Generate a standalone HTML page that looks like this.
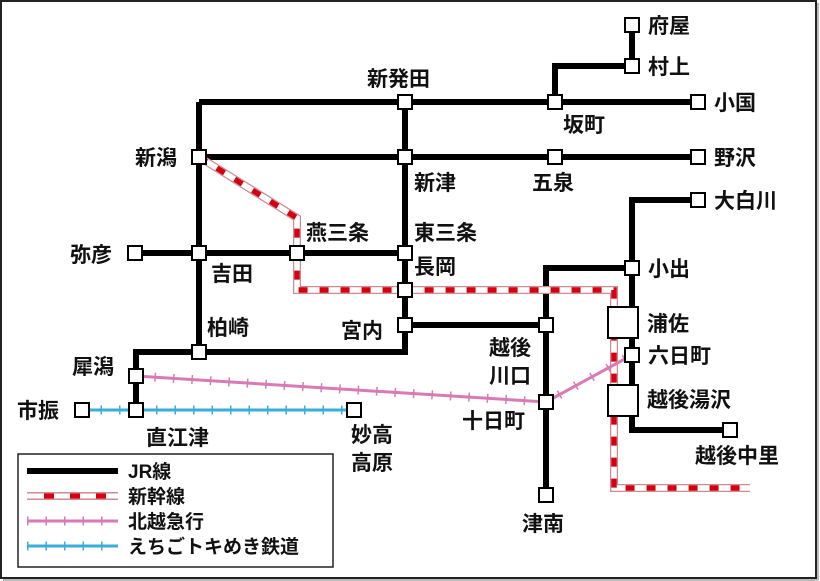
<!DOCTYPE html>
<html><head><meta charset="utf-8"><style>
html,body{margin:0;padding:0;background:#fff;}
svg{display:block;}
text{font-family:"Liberation Sans","Noto Sans CJK JP",sans-serif;font-size:21px;font-weight:bold;fill:#111;}
</style></head><body>
<svg width="820" height="581" viewBox="0 0 820 581" xmlns="http://www.w3.org/2000/svg">
<rect x="1" y="1" width="815" height="577" fill="#fff" stroke="#222" stroke-width="2"/>
<line x1="818" y1="3" x2="818" y2="580" stroke="#bbb" stroke-width="2"/>
<line x1="3" y1="580" x2="818" y2="580" stroke="#bbb" stroke-width="2"/>
<g stroke="#000" stroke-width="6" fill="none" stroke-linejoin="miter">
<polyline points="632,25 632,66 555,66 555,102"/>
<line x1="199" y1="102" x2="698" y2="102"/>
<line x1="199" y1="102" x2="199" y2="352"/>
<line x1="199" y1="157" x2="698" y2="157"/>
<polyline points="405,102 405,352 136,352 136,410"/>
<line x1="135" y1="253" x2="405" y2="253"/>
<line x1="405" y1="325" x2="546" y2="325"/>
<polyline points="546,495 546,268 632,268"/>
<polyline points="698,200 632,200 632,430 730,430"/>
</g>
<g fill="none">
<polyline points="199,157 297,218 297,290 614,290 614,488 750,488" stroke="#d08a90" stroke-width="8"/>
<polyline points="199,157 297,218 297,290 614,290 614,488 750,488" stroke="#fff" stroke-width="5.5"/>
<polyline points="199,157 297,218 297,290 614,290 614,488 750,488" stroke="#d40010" stroke-width="5.5" stroke-dasharray="9 12"/>
</g>
<g fill="none">
<polyline points="136,376 546,402 632,355" stroke="#d77ab5" stroke-width="3"/>
<polyline points="136,376 546,402 632,355" stroke="#d77ab5" stroke-width="9" stroke-dasharray="1.5 17"/>
<line x1="82" y1="410" x2="354" y2="410" stroke="#3aaed8" stroke-width="3"/>
<line x1="82" y1="410" x2="354" y2="410" stroke="#3aaed8" stroke-width="9" stroke-dasharray="1.5 17"/>
</g>
<g fill="#fff" stroke="#000" stroke-width="2">
<rect x="625" y="18" width="14" height="14"/>
<rect x="625" y="59" width="14" height="14"/>
<rect x="548" y="95" width="14" height="14"/>
<rect x="691" y="95" width="14" height="14"/>
<rect x="398" y="95" width="14" height="14"/>
<rect x="192" y="150" width="14" height="14"/>
<rect x="398" y="150" width="14" height="14"/>
<rect x="548" y="150" width="14" height="14"/>
<rect x="691" y="150" width="14" height="14"/>
<rect x="691" y="193" width="14" height="14"/>
<rect x="128" y="246" width="14" height="14"/>
<rect x="192" y="246" width="14" height="14"/>
<rect x="290" y="246" width="14" height="14"/>
<rect x="398" y="246" width="14" height="14"/>
<rect x="398" y="283" width="14" height="14"/>
<rect x="398" y="318" width="14" height="14"/>
<rect x="192" y="345" width="14" height="14"/>
<rect x="539" y="318" width="14" height="14"/>
<rect x="625" y="261" width="14" height="14"/>
<rect x="608" y="307" width="30" height="31"/>
<rect x="625" y="348" width="14" height="14"/>
<rect x="608" y="385" width="30" height="31"/>
<rect x="723" y="423" width="14" height="14"/>
<rect x="539" y="395" width="14" height="14"/>
<rect x="539" y="488" width="14" height="14"/>
<rect x="129" y="369" width="14" height="14"/>
<rect x="129" y="403" width="14" height="14"/>
<rect x="75" y="403" width="14" height="14"/>
<rect x="347" y="403" width="14" height="14"/>
</g>
<text x="648" y="33">府屋</text>
<text x="648" y="74">村上</text>
<text x="714" y="110">小国</text>
<text x="367" y="86">新発田</text>
<text x="563" y="132">坂町</text>
<text x="135" y="165">新潟</text>
<text x="714" y="165">野沢</text>
<text x="414" y="190">新津</text>
<text x="532" y="190">五泉</text>
<text x="714" y="208">大白川</text>
<text x="306" y="240">燕三条</text>
<text x="414" y="240">東三条</text>
<text x="70" y="262">弥彦</text>
<text x="211" y="281">吉田</text>
<text x="414" y="274">長岡</text>
<text x="648" y="276">小出</text>
<text x="647" y="331">浦佐</text>
<text x="207" y="335">柏崎</text>
<text x="341" y="338">宮内</text>
<text x="489" y="355">越後</text>
<text x="489" y="383">川口</text>
<text x="648" y="363">六日町</text>
<text x="72" y="374">犀潟</text>
<text x="647" y="407">越後湯沢</text>
<text x="17" y="418">市振</text>
<text x="462" y="428">十日町</text>
<text x="146" y="445">直江津</text>
<text x="351" y="442">妙高</text>
<text x="351" y="470">高原</text>
<text x="695" y="463">越後中里</text>
<text x="522" y="531">津南</text>
<rect x="18" y="454" width="315" height="113" fill="#fff" stroke="#222" stroke-width="1.5"/>
<line x1="27" y1="471" x2="118" y2="471" stroke="#000" stroke-width="6"/>
<line x1="27" y1="496" x2="118" y2="496" stroke="#d08a90" stroke-width="8"/>
<line x1="27" y1="496" x2="118" y2="496" stroke="#fff" stroke-width="5"/>
<line x1="44" y1="496" x2="118" y2="496" stroke="#d40010" stroke-width="5" stroke-dasharray="10 16"/>
<line x1="27" y1="521" x2="118" y2="521" stroke="#d77ab5" stroke-width="3"/>
<line x1="27" y1="521" x2="118" y2="521" stroke="#d77ab5" stroke-width="9" stroke-dasharray="1.5 17"/>
<line x1="27" y1="546" x2="118" y2="546" stroke="#3aaed8" stroke-width="3"/>
<line x1="27" y1="546" x2="118" y2="546" stroke="#3aaed8" stroke-width="9" stroke-dasharray="1.5 17"/>
<text x="128" y="478" style="font-size:19px">JR線</text>
<text x="128" y="503" style="font-size:19px">新幹線</text>
<text x="128" y="528" style="font-size:19px">北越急行</text>
<text x="128" y="553" style="font-size:19px">えちごトキめき鉄道</text>
</svg>
</body></html>
